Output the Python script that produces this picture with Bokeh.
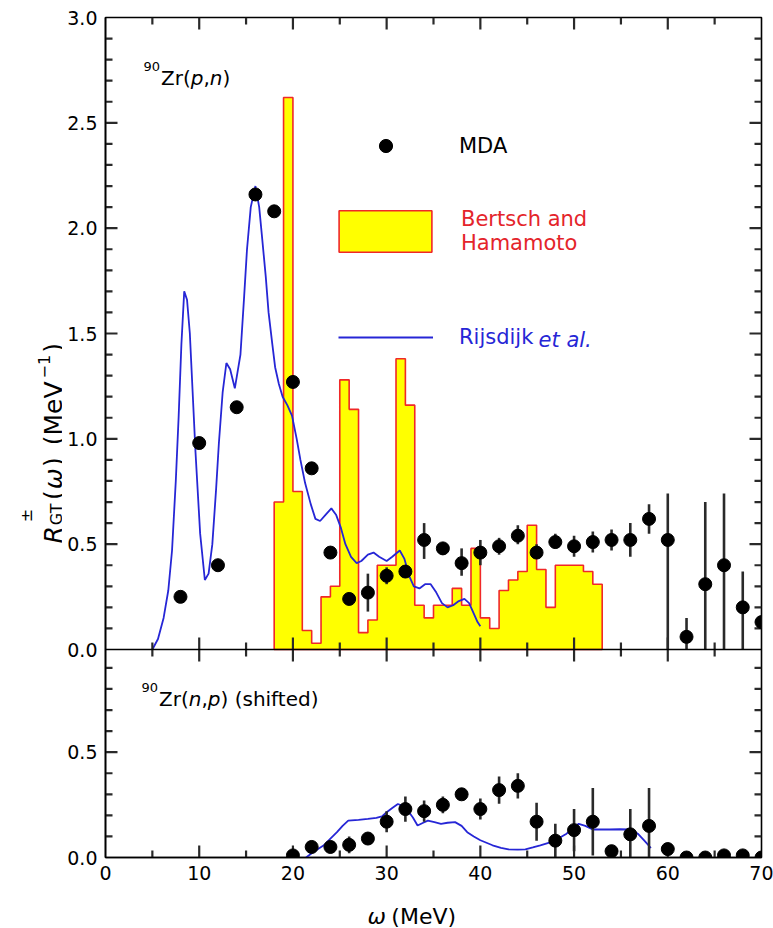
import math

from bokeh.embed import file_html
from bokeh.layouts import column, row
from bokeh.models import (ColumnDataSource, CustomJSTickFormatter, FixedTicker, Label,
                          Legend, LegendItem, LinearAxis, Range1d, Span)
from bokeh.plotting import figure
from bokeh.resources import INLINE

# ---------------------------------------------------------------- data
# 90Zr(p,n): multipole decomposition analysis (MDA) points with error-bar ends
mda_pn_x = [8, 10, 12, 14, 16, 18, 20, 22, 24, 26, 28, 30, 32, 34, 36, 38,
            40, 42, 44, 46, 48, 50, 52, 54, 56, 58, 60, 62, 64, 66, 68, 70]
mda_pn_y = [0.25, 0.98, 0.40, 1.15, 2.16, 2.08, 1.27, 0.86, 0.46, 0.24, 0.27, 0.35,
            0.37, 0.52, 0.48, 0.41, 0.46, 0.49, 0.54, 0.46, 0.51, 0.49, 0.51, 0.52,
            0.52, 0.62, 0.52, 0.06, 0.31, 0.40, 0.20, 0.13]
mda_pn_lo = [0.23, 0.96, 0.38, 1.13, 2.14, 2.06, 1.25, 0.84, 0.44, 0.22, 0.18, 0.31,
             0.34, 0.43, 0.45, 0.35, 0.40, 0.45, 0.50, 0.43, 0.48, 0.44, 0.46, 0.47,
             0.44, 0.55, 0.00, 0.00, 0.00, 0.00, 0.00, 0.10]
mda_pn_hi = [0.27, 1.00, 0.42, 1.17, 2.18, 2.10, 1.29, 0.88, 0.48, 0.26, 0.36, 0.39,
             0.40, 0.60, 0.51, 0.48, 0.52, 0.53, 0.59, 0.50, 0.55, 0.54, 0.56, 0.57,
             0.60, 0.69, 0.74, 0.15, 0.70, 0.74, 0.37, 0.16]

# Bertsch and Hamamoto strength histogram (1 MeV bins)
bh_edges = [18, 19, 20, 21, 22, 23, 24, 25, 26, 27, 28, 29, 30, 31, 32, 33, 34, 35,
            36, 37, 38, 39, 40, 41, 42, 43, 44, 45, 46, 47, 48, 49, 50, 51, 52, 53]
bh_heights = [0.70, 2.62, 0.75, 0.09, 0.03, 0.25, 0.30, 1.28, 1.14, 0.08, 0.14, 0.40,
              0.40, 1.38, 1.16, 0.21, 0.15, 0.21, 0.21, 0.29, 0.21, 0.48, 0.15, 0.10,
              0.28, 0.33, 0.37, 0.59, 0.38, 0.20, 0.40, 0.40, 0.40, 0.37, 0.31]

# Rijsdijk et al. calculation, (p,n) side
rij_pn_x = [5.0, 5.6, 6.2, 6.7, 7.1, 7.5, 7.8, 8.1, 8.4, 8.7, 9.0, 9.3, 9.6, 10.1,
            10.6, 11.0, 11.4, 11.8, 12.1, 12.5, 12.9, 13.3, 13.8, 14.4, 14.8, 15.1,
            15.5, 16.0, 16.4, 16.7, 17.1, 17.4, 17.8, 18.1, 18.5, 18.9, 19.4, 19.9,
            20.4, 20.8, 21.3, 21.9, 22.4, 22.9, 23.5, 24.1, 24.6, 25.1, 25.6, 26.2,
            26.8, 27.3, 28.0, 28.6, 29.2, 30.0, 30.6, 31.4, 31.9, 32.4, 32.9, 33.5,
            34.1, 34.7, 35.3, 35.9, 36.5, 37.1, 37.7, 38.3, 38.8, 39.3, 39.7, 40.0]
rij_pn_y = [0.0, 0.05, 0.15, 0.28, 0.47, 0.80, 1.10, 1.45, 1.70, 1.66, 1.50, 1.22,
            0.94, 0.55, 0.33, 0.36, 0.50, 0.76, 0.98, 1.22, 1.36, 1.33, 1.24, 1.40,
            1.68, 1.90, 2.10, 2.20, 2.10, 1.96, 1.77, 1.60, 1.45, 1.34, 1.26, 1.20,
            1.16, 1.11, 1.00, 0.90, 0.79, 0.69, 0.62, 0.61, 0.64, 0.67, 0.64, 0.58,
            0.50, 0.44, 0.41, 0.42, 0.45, 0.46, 0.44, 0.42, 0.44, 0.47, 0.43, 0.35,
            0.30, 0.29, 0.31, 0.31, 0.27, 0.22, 0.20, 0.21, 0.23, 0.24, 0.22, 0.17,
            0.13, 0.11]

# 90Zr(n,p) (shifted): MDA points and Rijsdijk et al. curve
mda_np_x = [20, 22, 24, 26, 28, 30, 32, 34, 36, 38, 40, 42, 44, 46, 48, 50, 52,
            54, 56, 58, 60, 62, 64, 66, 68, 70]
mda_np_y = [0.01, 0.05, 0.05, 0.06, 0.09, 0.17, 0.23, 0.22, 0.25, 0.30, 0.23, 0.32,
            0.34, 0.17, 0.08, 0.13, 0.17, 0.03, 0.11, 0.15, 0.04, 0.00, 0.00, 0.01,
            0.01, 0.00]
mda_np_lo = [0.00, 0.02, 0.02, 0.02, 0.07, 0.12, 0.17, 0.17, 0.21, 0.28, 0.18, 0.255,
             0.28, 0.08, 0.00, 0.03, 0.01, 0.01, 0.00, 0.00, 0.01, 0.00, 0.00, 0.00,
             0.00, 0.00]
mda_np_hi = [0.04, 0.08, 0.08, 0.10, 0.11, 0.22, 0.29, 0.27, 0.29, 0.32, 0.28, 0.385,
             0.40, 0.26, 0.16, 0.23, 0.33, 0.05, 0.23, 0.33, 0.07, 0.00, 0.00, 0.01,
             0.01, 0.00]

rij_np_x = [21.4, 22.3, 23.3, 24.0, 24.7, 25.3, 25.9, 27.0, 28.0, 28.9, 29.5, 30.0,
            30.6, 31.2, 31.7, 32.2, 32.8, 33.3, 33.9, 34.4, 35.1, 35.8, 36.5, 37.3,
            38.0, 38.6, 39.3, 40.0, 41.3, 42.2, 43.0, 44.0, 44.8, 45.6, 46.4, 47.8,
            48.5, 49.2, 49.9, 50.5, 51.2, 52.0, 53.0, 53.8, 54.9, 55.9, 56.4, 56.8,
            57.5, 58.2]
rij_np_y = [0.0, 0.03, 0.058, 0.09, 0.12, 0.15, 0.175, 0.179, 0.183, 0.188, 0.195,
            0.215, 0.235, 0.254, 0.245, 0.227, 0.19, 0.152, 0.165, 0.175, 0.168, 0.16,
            0.165, 0.168, 0.15, 0.12, 0.10, 0.082, 0.058, 0.046, 0.039, 0.037, 0.039,
            0.048, 0.058, 0.077, 0.095, 0.113, 0.14, 0.16, 0.15, 0.133, 0.133, 0.133,
            0.134, 0.133, 0.125, 0.113, 0.08, 0.045]

# axis ticks
x_tick_labels = [0, 10, 20, 30, 40, 50, 60, 70]
x_major_ticks = [10, 20, 30, 40, 50, 60]
x_minor_ticks = [5, 15, 25, 35, 45, 55, 65]
y_pn_major = [0.5, 1.0, 1.5, 2.0, 2.5]
y_pn_minor = [round(0.1 * i, 1) for i in range(1, 30) if i % 5]
y_np_major = [0.5]
y_np_minor = [round(0.1 * i, 1) for i in range(1, 10) if i % 5]

# ---------------------------------------------------------------- style / layout
FONT = "DejaVu Sans"
BLUE = "#2626d6"
RED = "#f02828"
RED_TEXT = "#e4242a"
YELLOW = "#ffff00"
BAR = "#2a2a2a"

PAGE_W, PAGE_H = 773, 928
TITLE_W = 62                 # strip holding the vertical axis title
LEFT, RIGHT, TOP = 105, 12, 17
FRAME_W = PAGE_W - LEFT - RIGHT          # 656
UPPER_H, LOWER_H = 632, 208
FRAME_H = UPPER_H + LOWER_H              # 840
BOTTOM = 34
XTITLE_H = PAGE_H - TOP - FRAME_H - BOTTOM

X_MAX, Y_MAX = 70.0, 3.0
PX_Y = Y_MAX / UPPER_H                   # data units per pixel, vertical
PX_X = X_MAX / FRAME_W                   # data units per pixel, horizontal
LOWER_SPAN = LOWER_H * PX_Y              # visible range of the lower panel

MAJOR_LEN, MINOR_LEN = 12, 7
BAR_W, TICK_W = 2.6, 2.2

# approximate DejaVu Sans advance widths (em units) for laying out mixed-style text
ADV = {" ": 0.318, "(": 0.390, ")": 0.390, ",": 0.318, ".": 0.318, "Z": 0.685,
       "r": 0.411, "p": 0.635, "n": 0.634, "s": 0.521, "h": 0.634, "i": 0.278,
       "f": 0.352, "t": 0.392, "e": 0.615, "d": 0.635, "R": 0.695, "G": 0.775,
       "T": 0.611, "\u00b1": 0.838, "\u03c9": 0.81, "M": 0.863, "V": 0.684,
       "\u2212": 0.838, "j": 0.278, "k": 0.579, "a": 0.613, "l": 0.278}


def advance(text, size):
    return sum(ADV.get(c, 0.636) for c in text) * size


def label(p, text, x, y, size, style="normal", color="black", angle=0.0,
          baseline="alphabetic"):
    p.add_layout(Label(x=x, y=y, x_units="screen", y_units="screen", text=text,
                       text_font=FONT, text_font_size=f"{size}px",
                       text_font_style=style, text_color=color, angle=angle,
                       text_align="left", text_baseline=baseline))


def add_runs(p, runs, x0, y0, color="black"):
    """Place (text, size, style, rise, gap) runs one after another."""
    x = x0
    for text, size, style, rise, gap in runs:
        x += gap
        label(p, text, x, y0 + rise, size, style, color)
        x += advance(text, size)


def blank_figure(w, h):
    f = figure(frame_width=w, frame_height=h, x_range=Range1d(0, 1),
               y_range=Range1d(0, 1), output_backend="svg", toolbar_location=None,
               x_axis_location=None, y_axis_location=None, min_border=0)
    f.outline_line_color = None
    f.grid.visible = False
    f.background_fill_color = "white"
    f.border_fill_color = "white"
    return f


# ---------------------------------------------------------------- main plot
# one frame holds both panels: the upper one on the default y range and the
# lower one on the "np" range, both with the same vertical scale
p = figure(frame_width=FRAME_W, frame_height=FRAME_H,
           x_range=Range1d(0, X_MAX), y_range=Range1d(-LOWER_SPAN, Y_MAX),
           output_backend="svg", toolbar_location=None,
           x_axis_location=None, y_axis_location=None,
           min_border_left=LEFT - TITLE_W, min_border_right=RIGHT,
           min_border_top=TOP, min_border_bottom=BOTTOM)
p.extra_y_ranges = {"np": Range1d(0, LOWER_SPAN + Y_MAX)}
p.grid.visible = False
p.outline_line_color = "black"
p.outline_line_width = 1.6
p.background_fill_color = "white"
p.border_fill_color = "white"

yax = LinearAxis(
    ticker=FixedTicker(ticks=[-LOWER_SPAN, -LOWER_SPAN + 0.5] + [0.0] + y_pn_major + [Y_MAX]),
    formatter=CustomJSTickFormatter(
        args=dict(span=LOWER_SPAN),
        code="const v = tick < -1e-9 ? tick + span : tick; return Math.abs(v).toFixed(1);"))
xax = LinearAxis(ticker=FixedTicker(ticks=x_tick_labels))
for ax in (yax, xax):
    ax.axis_line_color = "black"
    ax.axis_line_width = 1.6
    ax.major_tick_in = 0
    ax.major_tick_out = 0
    ax.minor_tick_in = 0
    ax.minor_tick_out = 0
    ax.major_tick_line_color = None
    ax.minor_tick_line_color = None
    ax.major_label_text_font = FONT
    ax.major_label_text_font_size = "19px"
    ax.major_label_text_color = "black"
    ax.major_label_standoff = 8
p.add_layout(yax, "left")
p.add_layout(xax, "below")

# separator between the panels
p.add_layout(Span(location=0, dimension="width", line_color="black", line_width=1.6))


# --- short strokes: error bars plus inward tick marks on every frame edge
# and on both sides of the separator, collected per vertical scale
class Strokes:
    def __init__(self):
        self.d = dict(x0=[], y0=[], x1=[], y1=[], w=[])

    def add(self, x0, y0, x1, y1, w):
        for a, b, c, e in zip(x0, y0, x1, y1):
            self.d["x0"].append(float(a))
            self.d["y0"].append(float(b))
            self.d["x1"].append(float(c))
            self.d["y1"].append(float(e))
            self.d["w"].append(w)

    def vticks(self, xs, y, length_px, sign):
        k = len(xs)
        self.add(xs, [y] * k, xs, [y + sign * length_px * PX_Y] * k, TICK_W)

    def hticks(self, ys, x, length_px, sign):
        k = len(ys)
        self.add([x] * k, ys, [x + sign * length_px * PX_X] * k, ys, TICK_W)


pn = Strokes()
npn = Strokes()
pn.add(mda_pn_x, mda_pn_lo, mda_pn_x, mda_pn_hi, BAR_W)
npn.add(mda_np_x, mda_np_lo, mda_np_x, mda_np_hi, BAR_W)
for ticks, n in ((x_major_ticks, MAJOR_LEN), (x_minor_ticks, MINOR_LEN)):
    pn.vticks(ticks, Y_MAX, n, -1)     # top edge
    pn.vticks(ticks, 0.0, n, +1)       # separator, upward
    pn.vticks(ticks, 0.0, n, -1)       # separator, downward
    npn.vticks(ticks, 0.0, n, +1)      # bottom edge
for ticks, n in ((y_pn_major, MAJOR_LEN), (y_pn_minor, MINOR_LEN)):
    pn.hticks(ticks, 0.0, n, +1)
    pn.hticks(ticks, X_MAX, n, -1)
for ticks, n in ((y_np_major, MAJOR_LEN), (y_np_minor, MINOR_LEN)):
    npn.hticks(ticks, 0.0, n, +1)
    npn.hticks(ticks, X_MAX, n, -1)

# --- upper panel: 90Zr(p,n)
hx, hy = [bh_edges[0]], [0.0]
for i, h in enumerate(bh_heights):
    hx += [bh_edges[i], bh_edges[i + 1]]
    hy += [h, h]
hx.append(bh_edges[-1])
hy.append(0.0)
r_hist = p.patch(hx, hy, fill_color=YELLOW, line_color=RED, line_width=1.6)

r_rij = p.line(rij_pn_x, rij_pn_y, line_color=BLUE, line_width=1.8)
p.segment(x0="x0", y0="y0", x1="x1", y1="y1", line_width="w",
          source=ColumnDataSource(pn.d), line_color=BAR)
r_mda = p.scatter(mda_pn_x, mda_pn_y, size=13, fill_color="black", line_color="black")

# --- lower panel: 90Zr(n,p) shifted
p.line(rij_np_x, rij_np_y, line_color=BLUE, line_width=1.8, y_range_name="np")
p.segment(x0="x0", y0="y0", x1="x1", y1="y1", line_width="w",
          source=ColumnDataSource(npn.d), line_color=BAR, y_range_name="np")
p.scatter(mda_np_x, mda_np_y, size=13, fill_color="black", line_color="black",
          y_range_name="np")

# --- legend entries, each placed on its own (screen offsets from the frame corner)
FB = TOP + FRAME_H  # page y of the frame bottom


def single_legend(text, renderer, left, bottom, gw, gh, standoff, color):
    lg = Legend(items=[LegendItem(label=text, renderers=[renderer])],
                location=(left - LEFT, FB - bottom),
                glyph_width=gw, glyph_height=gh, label_standoff=standoff,
                label_text_font=FONT, label_text_font_size="21px",
                label_text_color=color, padding=0, margin=0, spacing=0,
                border_line_alpha=0, background_fill_alpha=0)
    p.add_layout(lg)


single_legend("MDA", r_mda, 339, 162, 93, 33, 27, "black")
single_legend("Bertsch and\nHamamoto", r_hist, 327, 257, 116, 52, 18, RED_TEXT)
single_legend("Rijsdijk", r_rij, 338, 349, 95, 20, 26, BLUE)
label(p, "et al.", 338 + 95 + 26 + advance("Rijsdijk ", 21) - 2 - LEFT, FB - 339, 21,
      "italic", BLUE, baseline="middle")

# --- panel labels
add_runs(p, [("90", 13, "normal", 11, 0), ("Zr(", 20, "normal", 0, 1),
             ("p", 20, "italic", 0, 0), (",", 20, "normal", 0, 0),
             ("n", 20, "italic", 0, 0), (")", 20, "normal", 0, 0)],
         143 - LEFT, FB - 77)
add_runs(p, [("90", 13, "normal", 11, 0), ("Zr(", 20, "normal", 0, 1),
             ("n", 20, "italic", 0, 0), (",", 20, "normal", 0, 0),
             ("p", 20, "italic", 0, 0), (") (shifted)", 20, "normal", 0, 0)],
         141 - LEFT, FB - 698)

# ---------------------------------------------------------------- axis titles
ytitle = blank_figure(TITLE_W, PAGE_H)
up = math.pi / 2


def vpiece(text, size, style, page_x, pos):
    label(ytitle, text, page_x, PAGE_H - pos, size, style, angle=up)


BASE_X = 53   # page x of the title baseline (glyph tops point left)
pos = 543.0   # page y where the title starts; the text runs upward
vpiece("R", 25, "italic", BASE_X, pos)
pos -= advance("R", 25) + 1
vpiece("\u00b1", 16, "normal", BASE_X - 27, pos - 3)
vpiece("GT", 16, "normal", BASE_X + 3, pos)
pos -= advance("GT", 16) + 3
vpiece("(", 25, "normal", BASE_X, pos)
pos -= advance("(", 25) + 1
vpiece("\u03c9", 25, "italic", BASE_X, pos)
pos -= advance("\u03c9", 25) + 2
vpiece(")", 25, "normal", BASE_X, pos)
pos -= advance(") ", 25) + 4
vpiece("(MeV", 25, "normal", BASE_X, pos)
pos -= advance("(MeV", 25) + 3
vpiece("\u22121", 16, "normal", BASE_X - 10, pos)
pos -= advance("\u22121", 16) + 2
vpiece(")", 25, "normal", BASE_X, pos)

xtitle = blank_figure(PAGE_W - TITLE_W, XTITLE_H)
add_runs(xtitle, [("\u03c9", 22, "italic", 0, 0), ("(MeV)", 22, "normal", 0, 6)],
         324 - TITLE_W, PAGE_H - 916)

layout = row(ytitle, column(p, xtitle))
open("out.html", "w").write(file_html(layout, INLINE))
